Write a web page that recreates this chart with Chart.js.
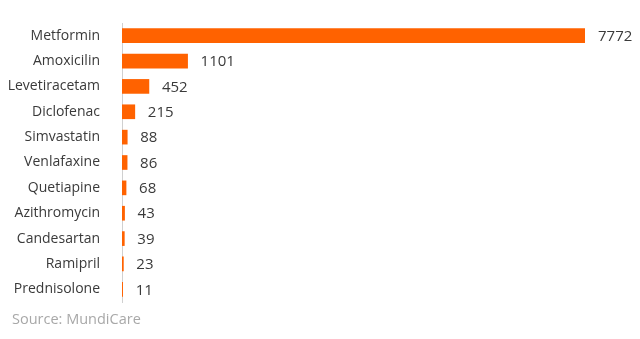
<!DOCTYPE html>
<html>
<head>
<meta charset="utf-8">
<script src="https://cdn.jsdelivr.net/npm/chart.js@4"></script>
<style>
    body { margin: 0; background: #fff; }
    #wrap { position: relative; width: 640px; height: 339px; }
    #source {
        position: absolute; left: 12px; top: 309px;
        font-family: "Open Sans", sans-serif; font-size: 14.5px; color: #a8a8a8;
    }
</style>
</head>
<body>
<div id="wrap">
    <canvas id="chart" width="640" height="339"></canvas>
    <div id="source">Source: MundiCare</div>
</div>
<script>
const drugs = ['Metformin', 'Amoxicilin', 'Levetiracetam', 'Diclofenac', 'Simvastatin', 'Venlafaxine',
    'Quetiapine', 'Azithromycin', 'Candesartan', 'Ramipril', 'Prednisolone']
const counts = [7772, 1101, 452, 215, 88, 86, 68, 43, 39, 23, 11]

const textColor = '#3a3a3a'
const fontFamily = '"Open Sans", sans-serif'

// value labels at the end of each bar
const valueLabels = {
    id: 'valueLabels',
    afterDatasetsDraw(chart) {
        const ctx = chart.ctx
        const meta = chart.getDatasetMeta(0)
        ctx.save()
        ctx.font = '15px ' + fontFamily
        ctx.fillStyle = textColor
        ctx.textAlign = 'left'
        ctx.textBaseline = 'middle'
        meta.data.forEach((bar, i) => {
            ctx.fillText(counts[i], bar.x + 13, bar.y + 1)
        })
        ctx.restore()
    }
}

const ctx = document.getElementById('chart').getContext('2d')
const chart = new Chart(ctx, {
    type: 'bar',
    data: {
        labels: drugs,
        datasets: [{
            data: counts,
            backgroundColor: '#ff6200',
            barThickness: 14
        }]
    },
    options: {
        indexAxis: 'y',
        responsive: false,
        animation: false,
        layout: { padding: { top: 23, bottom: 37, right: 55, left: 0 } },
        plugins: {
            legend: { display: false },
            tooltip: { enabled: false }
        },
        scales: {
            x: {
                display: false,
                min: 0,
                max: 7772
            },
            y: {
                grid: { display: false },
                border: { display: true, color: '#d0d0d0', width: 1 },
                ticks: {
                    color: textColor,
                    padding: 14,
                    font: { family: fontFamily, size: 14 }
                },
                afterFit(scale) { scale.width = 122 }
            }
        }
    },
    plugins: [valueLabels]
})
</script>
</body>
</html>
